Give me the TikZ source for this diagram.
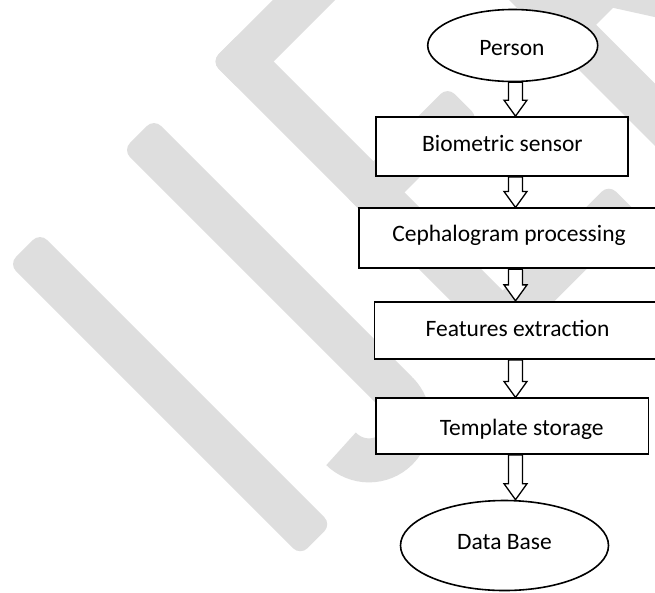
\documentclass[tikz,border=0pt]{standalone}
\usepackage{fontspec}
\setmainfont{Carlito}
\usetikzlibrary{calc,shapes.geometric}
\definecolor{wmgray}{RGB}{222,222,222}

% hollow block arrow from the first point down to the second
\newcommand\flowarrow[2]{%
  \draw[blockarrow] let \p1=(#1), \p2=(#2) in
    (\x1-7pt,\y1) -- (\x1-7pt,\y2+16pt) -- (\x1-11.5pt,\y2+16pt) -- (\x1,\y2)
    -- (\x1+11.5pt,\y2+16pt) -- (\x1+7pt,\y2+16pt) -- (\x1+7pt,\y1) -- cycle;}

\begin{document}
\begin{tikzpicture}[x=1pt,y=-1pt,
  flowbox/.style={draw=black, line width=1.7pt, fill=white, rectangle, inner sep=0pt},
  flowoval/.style={draw=black, line width=1.6pt, fill=white, ellipse, inner sep=0pt},
  lbl/.style={font=\fontsize{23.5}{28}\selectfont, inner sep=0pt, anchor=base},
  blockarrow/.style={draw=black, line width=1.3pt, fill=white, line join=miter},
  wmbar/.style={fill=wmgray, rounded corners=10pt},
  wmstroke/.style={draw=wmgray, line width=44pt, line cap=butt}]

\useasboundingbox (0,0) rectangle (655,592);
\clip (0,0) rectangle (655,592);
\fill[white] (0,0) rectangle (655,592);

% background lettering, drawn in a frame turned by 45 degrees
\begin{scope}[rotate=45]
  % I
  \fill[wmbar] (-180.4,193) -- (-136.4,193) -- (-136.4,605) -- (-180.4,605) -- cycle;
  % J
  \fill[wmbar] (-19.2,193) -- (24.8,193) -- (24.8,568) -- (-19.2,568) -- cycle;
  \draw[wmstroke] (2.8,558.5) arc[start angle=0, end angle=180, radius=39.5];
  % E
  \fill[wmbar] (106,193) -- (150,193) -- (150,605) -- (106,605) -- cycle;
  \fill[wmbar] (106,193) -- (300,193) -- (300,237) -- (106,237) -- cycle;
  \fill[wmbar] (106,378) -- (255,378) -- (255,422) -- (106,422) -- cycle;
  \fill[wmbar] (106,561) -- (300,561) -- (300,605) -- (106,605) -- cycle;
  % R
  \fill[wmbar] (360,193) -- (404,193) -- (404,605) -- (360,605) -- cycle;
  \draw[wmstroke] (382,215) -- (455,215) arc[start angle=-90, end angle=90, radius=101] -- (382,417);
  \draw[wmstroke] (440,417) -- (560,605);
\end{scope}

% flow chart
\node[flowoval, minimum width=170pt, minimum height=72pt] (e0) at (512.7,45.5) {};
\node[flowbox, minimum width=252pt, minimum height=59pt] (b1) at (502,146.5) {};
\node[flowbox, minimum width=301pt, minimum height=60pt] (b2) at (509.5,238.3) {};
\node[flowbox, minimum width=286.5pt, minimum height=57.3pt] (b3) at (517.75,330.35) {};
\node[flowbox, minimum width=272.5pt, minimum height=55.7pt] (b4) at (512.25,426.15) {};
\node[flowoval, minimum width=208pt, minimum height=90pt] (e5) at (504.5,545.5) {};

\node[lbl] (t0) at (512,55) {Person};
\node[lbl] (t1) at (502.4,151) {Biometric sensor};
\node[lbl] (t2) at (509,241) {Cephalogram processing};
\node[lbl] (t3) at (517.5,336.5) {Features extraction};
\node[lbl] (t4) at (521.7,435) {Template storage};
\node[lbl] (t5) at (504.5,549) {Data Base};

\coordinate (ax) at (515.5,0);
\flowarrow{e0.south -| ax}{b1.north -| ax}
\flowarrow{b1.south -| ax}{b2.north -| ax}
\flowarrow{b2.south -| ax}{b3.north -| ax}
\flowarrow{b3.south -| ax}{b4.north -| ax}
\flowarrow{b4.south -| ax}{e5.north -| ax}
\end{tikzpicture}
\end{document}
